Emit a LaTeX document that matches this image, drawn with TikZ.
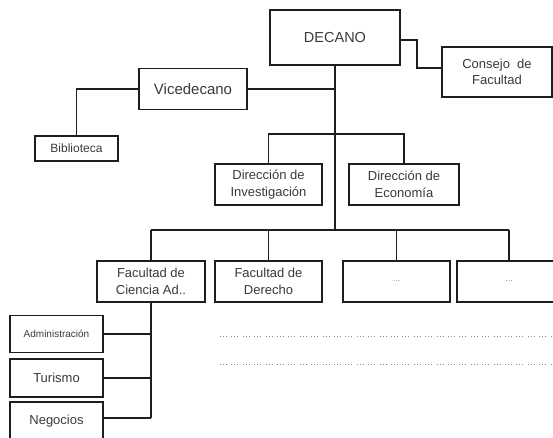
\documentclass[tikz,border=0pt]{standalone}
\usepackage{fontspec}
\setmainfont{Liberation Sans}
\definecolor{txt}{HTML}{3A3A3A}
\definecolor{ln}{HTML}{1E1E1E}
\definecolor{dotc}{HTML}{8A8A8A}
\begin{document}
\begin{tikzpicture}[x=1pt,y=-1pt,
  box/.style={draw=ln,line width=1.8pt,inner sep=0pt,text=txt,align=center,
    font=\fontsize{13}{16.5}\selectfont},
  conn/.style={draw=ln,line width=1.8pt},
  dotline/.style={draw=dotc,line width=0.9pt,
    dash pattern=on 0.9pt off 2.1pt on 0.9pt off 2.1pt on 0.9pt off 4.5pt}]
\useasboundingbox (0,0) rectangle (553,437);
\fill[white] (0,0) rectangle (553,437);
\clip (0,0) rectangle (553,437);

% nodes
\node[box, minimum width=130pt, minimum height=55pt, font=\fontsize{14.5}{17}\selectfont] (dec) at (335,37.5) {DECANO};
\node[box, minimum width=110pt, minimum height=50pt] (cons) at (497,72) {Consejo\ \ de\\Facultad};
\node[box, minimum width=108pt, minimum height=41pt, font=\fontsize{15}{17}\selectfont] (vice) at (193,89) {Vicedecano};
\node[box, minimum width=83pt, minimum height=25pt, font=\fontsize{12}{14}\selectfont] (bib) at (76.5,148.5) {Biblioteca};
\node[box, minimum width=107pt, minimum height=41pt] (dinv) at (268.5,184.5) {Dirección de\\Investigación};
\node[box, minimum width=110pt, minimum height=41pt] (deco) at (404,184.5) {Dirección de\\Economía};
\node[box, minimum width=108pt, minimum height=41pt] (f1) at (151,281.5) {Facultad de\\Ciencia Ad..};
\node[box, minimum width=107pt, minimum height=41pt] (f2) at (268.5,281.5) {Facultad de\\Derecho};
\node[box, minimum width=107pt, minimum height=41pt, text=dotc, font=\fontsize{9}{10}\selectfont] (f3) at (396.5,281.5) {...};
\node[box, minimum width=104pt, minimum height=41pt, text=dotc, font=\fontsize{9}{10}\selectfont] (f4) at (509,281.5) {...};
\node[box, minimum width=93pt, minimum height=37pt, font=\fontsize{10}{12}\selectfont] (adm) at (56.5,334) {Administración};
\node[box, minimum width=93pt, minimum height=38pt] (tur) at (56.5,378) {Turismo};
\node[box, minimum width=93pt, minimum height=38pt, text depth=3pt] (neg) at (56.5,421) {Negocios};

% helper coordinates
\coordinate (ktop) at (417,40);
\coordinate (kcons) at (0,68);
\coordinate (hd) at (0,134);
\coordinate (hb) at (0,230);
\coordinate (kneg) at (0,418);
\coordinate (d1s) at (220,336);
\coordinate (d1e) at (551,336);
\coordinate (d2s) at (220,364);
\coordinate (d2e) at (551,364);

% connectors
\draw[conn] (dec.east |- ktop) -- (ktop) -- (ktop |- kcons) -- (cons.west |- kcons);
\draw[conn] (dec.south) -- (dec.south |- hb);
\draw[conn] (vice.east) -- (vice.east -| dec.south);
\draw[conn] (vice.west) -| (bib.north);
\draw[conn] (dinv.north) -- (dinv.north |- hd) -- (deco.north |- hd) -- (deco.north);
\draw[conn] (f1.north |- hb) -- (f4.north |- hb);
\foreach \n in {f1,f2,f3,f4} \draw[conn] (\n.north) -- (\n.north |- hb);
\draw[conn] (f1.south) -- (f1.south |- kneg);
\draw[conn] (adm.east) -- (adm.east -| f1.south);
\draw[conn] (tur.east) -- (tur.east -| f1.south);
\draw[conn] (neg.east |- kneg) -- (f1.south |- kneg);

% dotted lines
\draw[dotline] (d1s) -- (d1e);
\draw[dotline] (d2s) -- (d2e);
\end{tikzpicture}
\end{document}
